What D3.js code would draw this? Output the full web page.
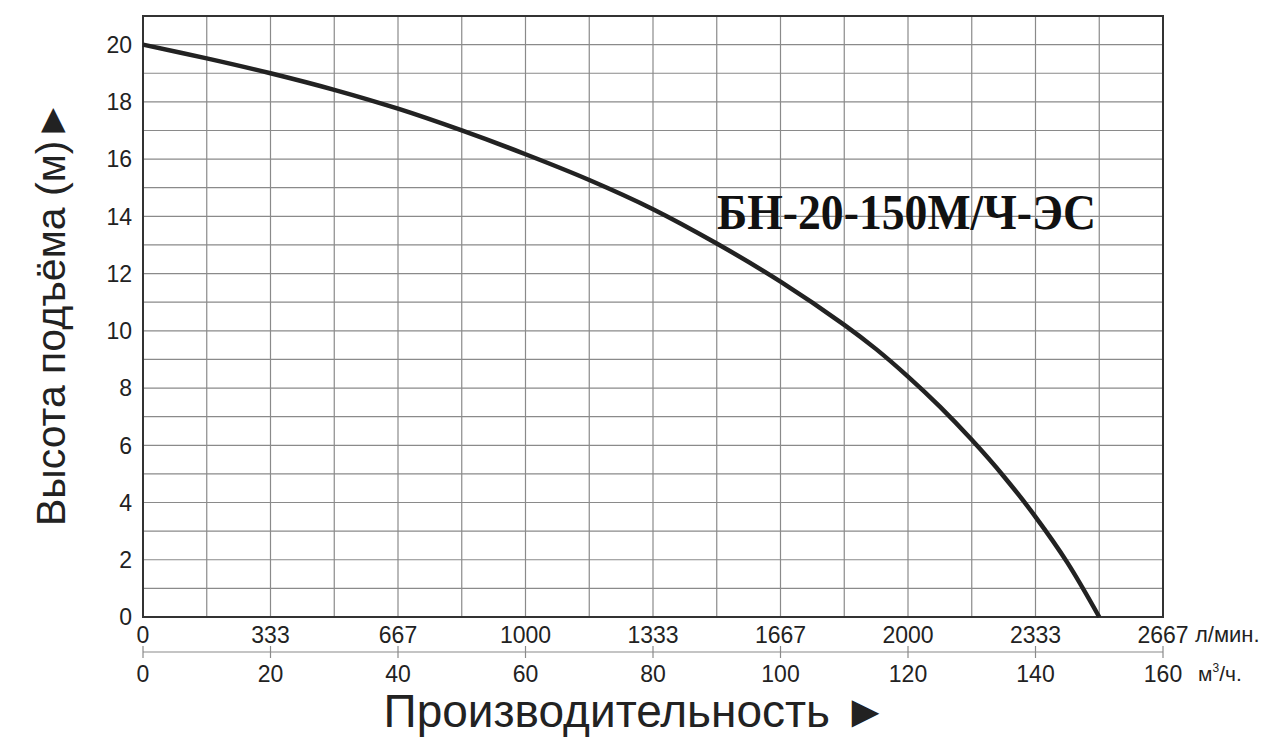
<!DOCTYPE html>
<html>
<head>
<meta charset="utf-8">
<script src="https://cdn.jsdelivr.net/npm/d3@7"></script>
<style>
	body { margin: 0; background: #ffffff; }
	text { font-family: "Liberation Sans", Arial, sans-serif; }
</style>
</head>
<body>
<svg id="chart" width="1275" height="745"></svg>
<script>

// data
var flowRate = [0, 10, 20, 30, 40, 50, 60, 70, 80, 90, 100, 110, 115, 120, 125, 130, 135, 140, 145, 150];
var headValues = [20, 19.52, 19.0, 18.42, 17.76, 17.0, 16.17, 15.27, 14.25, 13.05, 11.72, 10.21, 9.36, 8.4, 7.35, 6.19, 4.92, 3.5, 1.9, 0];

var flowTicks = [0, 20, 40, 60, 80, 100, 120, 140, 160];
var litreTicks = ["0", "333", "667", "1000", "1333", "1667", "2000", "2333", "2667"];
var headTicks = [0, 2, 4, 6, 8, 10, 12, 14, 16, 18, 20];

var modelName = "БН-20-150М/Ч-ЭС";

//****************************************************************************************************************************//
// Canvas

var width = 1275;
var height = 745;
var plot = { left : 143, right : 1163, top : 16, bottom : 617 };

var canvas = d3.select("#chart");

canvas.append("rect")
			.attr("width", width)
			.attr("height", height)
			.attr("fill", "white");

var x = d3.scaleLinear().domain([0, 160]).range([plot.left, plot.right]);
var y = d3.scaleLinear().domain([0, 21]).range([plot.bottom, plot.top]);

//****************************************************************************************************************************//
// Grid

canvas.append("g")
			.selectAll("line")
			.data(d3.range(10, 160, 10))
			.join("line")
			.attr("x1", d => x(d))
			.attr("x2", d => x(d))
			.attr("y1", y(0))
			.attr("y2", y(21))
			.attr("stroke", "#8a8a8a")
			.attr("stroke-width", 1.2);

canvas.append("g")
			.selectAll("line")
			.data(d3.range(1, 21, 1))
			.join("line")
			.attr("x1", x(0))
			.attr("x2", x(160))
			.attr("y1", d => y(d))
			.attr("y2", d => y(d))
			.attr("stroke", "#8a8a8a")
			.attr("stroke-width", 1.2);

canvas.append("rect")
			.attr("x", x(0))
			.attr("y", y(21))
			.attr("width", x(160) - x(0))
			.attr("height", y(0) - y(21))
			.attr("fill", "none")
			.attr("stroke", "#333")
			.attr("stroke-width", 2);

//****************************************************************************************************************************//
// Curve

var line = d3.line()
			.x((d, i) => x(flowRate[i]))
			.y(d => y(d))
			.curve(d3.curveCatmullRom.alpha(0.5));

canvas.append("path")
			.datum(headValues)
			.attr("d", line)
			.attr("fill", "none")
			.attr("stroke", "#222")
			.attr("stroke-width", 4.5);

canvas.append("text")
			.attr("x", 717)
			.attr("y", 229)
			.attr("textLength", 379)
			.attr("lengthAdjust", "spacingAndGlyphs")
			.style("font-family", "'Liberation Serif', 'Times New Roman', serif")
			.style("font-weight", "bold")
			.style("font-size", "50px")
			.attr("fill", "#111")
			.text(modelName);

//****************************************************************************************************************************//
// Y Axis

canvas.append("g")
			.selectAll("text")
			.data(headTicks)
			.join("text")
			.attr("x", 132)
			.attr("y", d => y(d))
			.attr("dy", "0.36em")
			.attr("text-anchor", "end")
			.style("font-size", "23px")
			.attr("fill", "#222")
			.text(d => d);

canvas.append("text")
			.attr("transform", "translate(65,313) rotate(-90)")
			.attr("text-anchor", "middle")
			.style("font-size", "41px")
			.attr("fill", "#222")
			.text("Высота подъёма (м)►");

//****************************************************************************************************************************//
// X Axes

canvas.append("g")
			.selectAll("text")
			.data(flowTicks)
			.join("text")
			.attr("x", d => x(d))
			.attr("y", 643)
			.attr("text-anchor", "middle")
			.style("font-size", "23px")
			.attr("fill", "#222")
			.text((d, i) => litreTicks[i]);

canvas.append("line")
			.attr("x1", x(0))
			.attr("x2", x(160))
			.attr("y1", 652)
			.attr("y2", 652)
			.attr("stroke", "#8a8a8a")
			.attr("stroke-width", 1.2);

canvas.append("g")
			.selectAll("line")
			.data(flowTicks)
			.join("line")
			.attr("x1", d => x(d))
			.attr("x2", d => x(d))
			.attr("y1", 646)
			.attr("y2", 658)
			.attr("stroke", "#8a8a8a")
			.attr("stroke-width", 1.2);

canvas.append("g")
			.selectAll("text")
			.data(flowTicks)
			.join("text")
			.attr("x", d => x(d))
			.attr("y", 682)
			.attr("text-anchor", "middle")
			.style("font-size", "23px")
			.attr("fill", "#222")
			.text(d => d);

canvas.append("text")
			.attr("x", 1195)
			.attr("y", 642)
			.style("font-size", "22px")
			.attr("fill", "#222")
			.text("л/мин.");

var unitText = canvas.append("text")
			.attr("x", 1198)
			.attr("y", 681)
			.style("font-size", "21px")
			.attr("fill", "#222");

unitText.append("tspan").text("м");
unitText.append("tspan")
			.attr("dy", -9)
			.style("font-size", "12px")
			.text("3");
unitText.append("tspan")
			.attr("dy", 9)
			.text("/ч.");

canvas.append("text")
			.attr("x", 636)
			.attr("y", 727)
			.attr("text-anchor", "middle")
			.style("font-size", "46px")
			.attr("fill", "#222")
			.text("Производительность ►");

</script>
</body>
</html>
